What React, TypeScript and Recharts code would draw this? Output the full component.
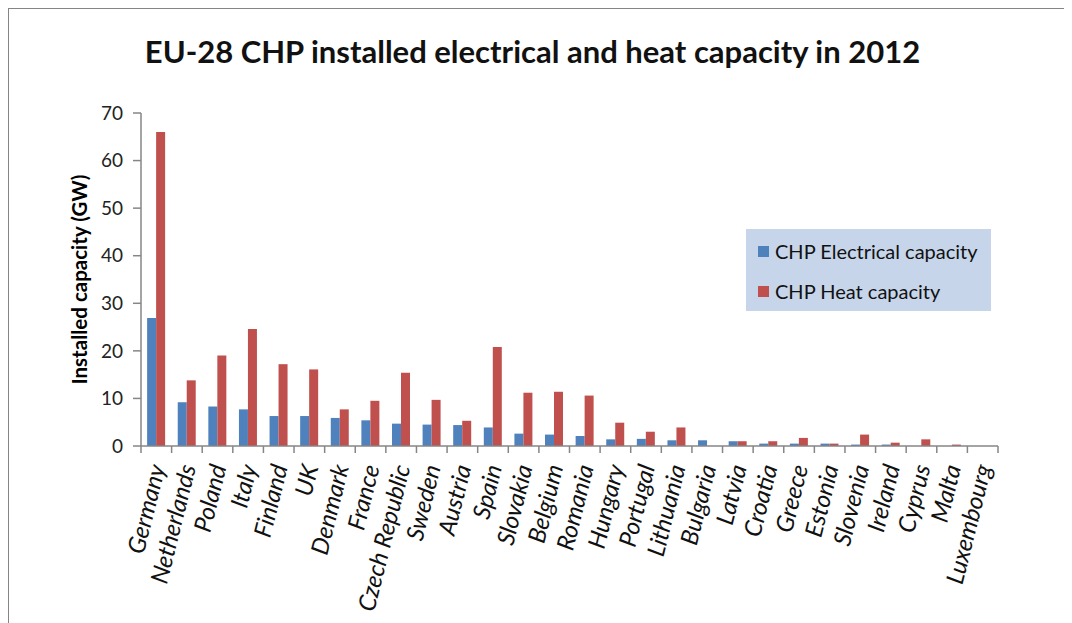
import React from 'react';
import { BarChart, Bar, XAxis, YAxis } from 'recharts';

const countries = [
  'Germany', 'Netherlands', 'Poland', 'Italy', 'Finland', 'UK', 'Denmark', 'France',
  'Czech Republic', 'Sweden', 'Austria', 'Spain', 'Slovakia', 'Belgium', 'Romania',
  'Hungary', 'Portugal', 'Lithuania', 'Bulgaria', 'Latvia', 'Croatia', 'Greece',
  'Estonia', 'Slovenia', 'Ireland', 'Cyprus', 'Malta', 'Luxembourg',
];
const electrical = [
  26.9, 9.2, 8.3, 7.7, 6.3, 6.3, 5.9, 5.4, 4.7, 4.5, 4.4, 3.9, 2.6, 2.4, 2.1,
  1.4, 1.5, 1.2, 1.2, 1.0, 0.5, 0.5, 0.5, 0.3, 0.3, 0, 0, 0,
];
const heat = [
  66.0, 13.8, 19.0, 24.6, 17.2, 16.1, 7.7, 9.5, 15.4, 9.7, 5.3, 20.8, 11.2, 11.4, 10.6,
  4.9, 3.0, 3.9, 0, 1.0, 1.0, 1.7, 0.5, 2.4, 0.7, 1.4, 0.3, 0,
];
const yTicks = [0, 10, 20, 30, 40, 50, 60, 70];
const seriesNames = ['CHP Electrical capacity', 'CHP Heat capacity'];
const seriesColors = ['#4f81bd', '#c0504d'];

const data = countries.map((name, i) => ({ name, elec: electrical[i], heat: heat[i] }));

const FONT = 'Lato, "Open Sans", sans-serif';
const W = 1072;
const H = 623;
const LEFT = 141;
const RIGHT = 74;
const BAND = (W - LEFT - RIGHT) / countries.length;
const AXIS = '#868686';

const CountryTick = (props: any) => {
  const { x, y, payload, index } = props;
  const last = index === countries.length - 1;
  return (
    <g>
      <line x1={x - BAND / 2} y1={y} x2={x - BAND / 2} y2={y + 7} stroke={AXIS} strokeWidth={1.5} />
      {last && <line x1={x + BAND / 2} y1={y} x2={x + BAND / 2} y2={y + 7} stroke={AXIS} strokeWidth={1.5} />}
      <text
        transform={`translate(${x + 1},${y + 19}) rotate(-76)`}
        textAnchor="end"
        fontSize={24}
        fontStyle="italic"
        fontFamily={FONT}
        fill="#111"
        dy="0.35em"
      >
        {payload.value}
      </text>
    </g>
  );
};

const LegendBox = () => (
  <div
    style={{
      position: 'absolute',
      left: 746,
      top: 229,
      background: '#c6d5ea',
      width: 245,
      height: 82,
      boxSizing: 'border-box',
      padding: '7px 0 0 12px',
      fontFamily: FONT,
      fontSize: 20,
      color: '#111',
    }}
  >
    {seriesNames.map((n, i) => (
      <div key={n} style={{ display: 'flex', alignItems: 'center', height: 30, marginBottom: 10 }}>
        <span style={{ width: 11, height: 11, background: seriesColors[i], display: 'inline-block', marginRight: 6 }} />
        <span>{n}</span>
      </div>
    ))}
  </div>
);

export default function App() {
  return (
    <div style={{ position: 'relative', width: W, height: H, margin: '-8px 0 0 -8px', overflow: 'hidden', background: '#fff' }}>
      <div
        style={{
          position: 'absolute',
          left: 7,
          top: 7,
          width: W,
          height: H,
          borderTop: '2px solid #848484',
          borderLeft: '2px solid #848484',
        }}
      />
      <div
        style={{
          position: 'absolute',
          left: 0,
          width: 1065,
          top: 32,
          textAlign: 'center',
          fontFamily: FONT,
          fontWeight: 700,
          fontSize: 31,
          color: '#111',
        }}
      >
        EU-28 CHP installed electrical and heat capacity in 2012
      </div>
      <div style={{ position: 'absolute', left: 0, top: 0 }}>
        <BarChart
          width={W}
          height={H}
          data={data}
          margin={{ top: 113, right: RIGHT, bottom: 0, left: 0 }}
          barCategoryGap="20%"
          barGap={0}
        >
          <XAxis
            dataKey="name"
            interval={0}
            height={177}
            tickLine={false}
            tickSize={0}
            tickMargin={0}
            axisLine={{ stroke: AXIS, strokeWidth: 1.5 }}
            tick={<CountryTick />}
          />
          <YAxis
            width={LEFT}
            domain={[0, 70]}
            ticks={yTicks}
            tickSize={8}
            tickMargin={10}
            axisLine={{ stroke: AXIS, strokeWidth: 1.5 }}
            tickLine={{ stroke: AXIS, strokeWidth: 1.5 }}
            tick={{ fontSize: 19, fontFamily: FONT, fill: '#222' }}
            label={{
              value: 'Installed capacity (GW)',
              angle: -90,
              position: 'insideLeft',
              dx: 75,
              dy: 0,
              style: { fontSize: 20.5, fontWeight: 700, fontFamily: FONT, fill: '#000', textAnchor: 'middle' },
            }}
          />
          <Bar dataKey="elec" name={seriesNames[0]} fill={seriesColors[0]} isAnimationActive={false} />
          <Bar dataKey="heat" name={seriesNames[1]} fill={seriesColors[1]} isAnimationActive={false} />
        </BarChart>
      </div>
      <LegendBox />
    </div>
  );
}
